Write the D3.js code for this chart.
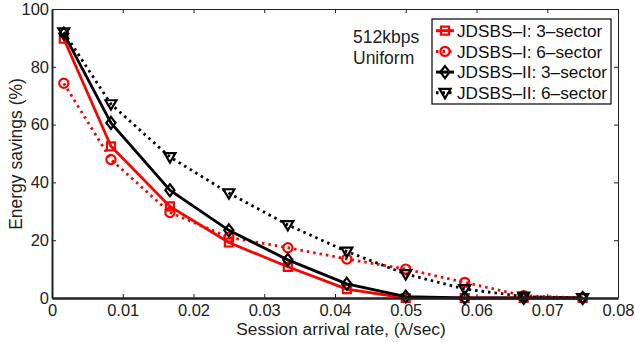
<!DOCTYPE html>
<html lang="en">
<head>
<meta charset="utf-8" />
<title>energy savings</title>
<style>
  body { margin: 0; background: #fff; }
  text { font-family: "Liberation Sans", Arial, sans-serif; }
</style>
</head>
<body>
<script src="https://d3js.org/d3.v7.min.js"></script>
<div id="chart"></div>
<script>
// session arrival rates (lambda/sec)
const rates = [1/600, 1/120, 1/60, 1/40, 1/30, 1/24, 1/20, 7/120, 1/15, 3/40];

const jdsbs1_3 = [89.7, 52.5, 31.7, 19.2, 10.8, 3.1, 0, 0, 0, 0];
const jdsbs1_6 = [74.3, 47.9, 29.6, 21.0, 17.4, 13.5, 10.0, 5.4, 0.8, 0];
const jdsbs2_3 = [91.5, 60.6, 37.3, 23.4, 13.2, 4.9, 0.5, 0, 0, 0];
const jdsbs2_6 = [92.0, 67.1, 48.8, 36.3, 25.3, 16.1, 8.3, 3.1, 0.5, 0];

const seriesNames = ["JDSBS\u2013I: 3\u2013sector", "JDSBS\u2013I: 6\u2013sector",
                     "JDSBS\u2013II: 3\u2013sector", "JDSBS\u2013II: 6\u2013sector"];
const xTicks = [0, 0.01, 0.02, 0.03, 0.04, 0.05, 0.06, 0.07, 0.08];
const yTicks = [0, 20, 40, 60, 80, 100];

const W = 635, H = 342;
const margin = {top: 9, right: 17, bottom: 44, left: 52};
const width = W - margin.left - margin.right,
      height = H - margin.top - margin.bottom;

const svg = d3.select("#chart").append("svg")
    .attr("width", W).attr("height", H);
const g = svg.append("g").attr("transform", `translate(${margin.left},${margin.top})`);

const x = d3.scaleLinear().domain([0, 0.08]).range([0, width]);
const y = d3.scaleLinear().domain([0, 100]).range([height, 0]);

// series
const series = [
  {name: seriesNames[0], values: jdsbs1_3, color: "#ff0000", dash: null, marker: "square"},
  {name: seriesNames[1], values: jdsbs1_6, color: "#ff0000", dash: "2.5,4", marker: "circle"},
  {name: seriesNames[2], values: jdsbs2_3, color: "#000000", dash: null, marker: "diamond"},
  {name: seriesNames[3], values: jdsbs2_6, color: "#000000", dash: "2.5,4", marker: "triangle"}
];

const line = d3.line().x((d, i) => x(rates[i])).y(d => y(d));

function markerPath(type, s) {
  if (type === "square") return `M${-s},${-s}h${2*s}v${2*s}h${-2*s}Z`;
  if (type === "diamond") return `M0,${-s*1.3}L${s},0L0,${s*1.3}L${-s},0Z`;
  if (type === "triangle") return `M${-s*1.15},${-s*0.8}L${s*1.15},${-s*0.8}L0,${s*1.15}Z`;
  return null;
}

function drawMarker(sel, type, color) {
  if (type === "circle") {
    sel.append("circle").attr("r", 4.6).attr("fill", "none")
      .attr("stroke", color).attr("stroke-width", 2.2);
  } else {
    const s = type === "square" ? 4 : (type === "diamond" ? 4.6 : 4.8);
    sel.append("path").attr("d", markerPath(type, s)).attr("fill", "none")
      .attr("stroke", color).attr("stroke-width", 2.2).attr("stroke-linejoin", "miter");
  }
}

const plot = g.append("g");
series.forEach(s => {
  plot.append("path")
    .datum(s.values)
    .attr("d", line)
    .attr("fill", "none")
    .attr("stroke", s.color)
    .attr("stroke-width", 2.8)
    .attr("stroke-dasharray", s.dash);
  s.values.forEach((v, i) => {
    const m = plot.append("g").attr("transform", `translate(${x(rates[i])},${y(v)})`);
    drawMarker(m, s.marker, s.color);
  });
});

// axes with inward ticks on all sides
const fmt = d => d === 0 ? "0" : d3.format(".2f")(d);
const xAxis = g.append("g").attr("transform", `translate(0,${height})`)
  .call(d3.axisBottom(x).tickValues(xTicks).tickSizeInner(-4).tickSizeOuter(0).tickPadding(6).tickFormat(fmt));
const xTop = g.append("g")
  .call(d3.axisTop(x).tickValues(xTicks).tickSizeInner(-4).tickSizeOuter(0).tickFormat(""));
const yAxis = g.append("g")
  .call(d3.axisLeft(y).tickValues(yTicks).tickSizeInner(-4).tickSizeOuter(0).tickPadding(3));
const yRight = g.append("g").attr("transform", `translate(${width},0)`)
  .call(d3.axisRight(y).tickValues(yTicks).tickSizeInner(-4).tickSizeOuter(0).tickFormat(""));

[xAxis, xTop, yAxis, yRight].forEach(a => {
  a.selectAll("text").style("font-size", "16.5px").attr("fill", "#222");
  a.selectAll(".tick line").attr("stroke", "#222");
  a.select(".domain").attr("stroke", "#222");
});
xAxis.select(".domain").attr("stroke-width", 2.5);
yAxis.select(".domain").attr("stroke-width", 2);

// axis labels
svg.append("text")
  .attr("x", 341)
  .attr("y", 335)
  .attr("text-anchor", "middle")
  .style("font-size", "17.3px")
  .attr("fill", "#222")
  .text("Session arrival rate, (\u03bb/sec)");

svg.append("text")
  .attr("transform", `translate(22,154) rotate(-90)`)
  .attr("text-anchor", "middle")
  .style("font-size", "17.5px")
  .attr("fill", "#222")
  .text("Energy savings (%)");

// annotation
const note = svg.append("text").style("font-size", "17.5px").attr("fill", "#222");
note.append("tspan").attr("x", 353).attr("y", 43).text("512kbps");
note.append("tspan").attr("x", 353).attr("y", 64).text("Uniform");

// legend
const legend = svg.append("g").attr("transform", "translate(432,19)");
legend.append("rect").attr("width", 179).attr("height", 85)
  .attr("fill", "#fff").attr("stroke", "#000").attr("stroke-width", 1.2);
series.forEach((s, i) => {
  const row = legend.append("g").attr("transform", `translate(13,${11.7 + i * 20.7})`);
  row.append("line").attr("x1", -9).attr("x2", 9)
    .attr("stroke", s.color).attr("stroke-width", 3).attr("stroke-dasharray", s.dash);
  drawMarker(row, s.marker, s.color);
  row.append("text").attr("x", 12).attr("y", 6.3)
    .style("font-size", "17.2px").attr("fill", "#111").text(s.name);
});
</script>
</body>
</html>
